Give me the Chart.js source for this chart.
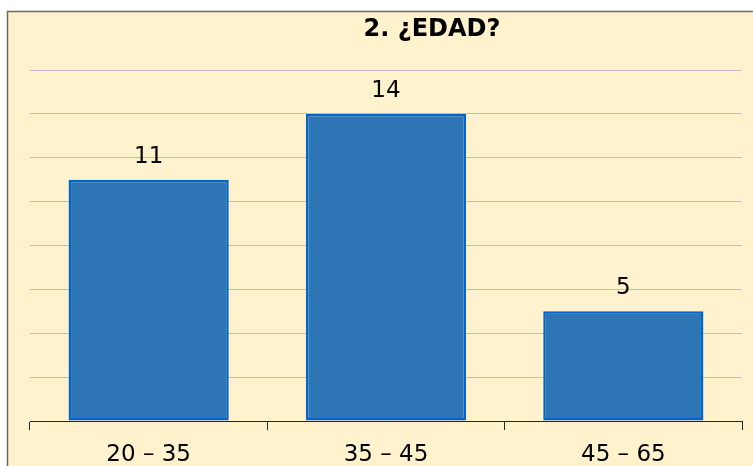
<!DOCTYPE html>
<html>
<head>
<meta charset="utf-8">
<script src="https://cdn.jsdelivr.net/npm/chart.js@4.4.1/dist/chart.umd.min.js"></script>
<style>
  html, body { margin: 0; padding: 0; background: #fff; }
  canvas { display: block; }
</style>
</head>
<body>
<canvas id="chart" width="753" height="466"></canvas>
<script>
// data
const categories = ['20 – 35', '35 – 45', '45 – 65'];
const values = [11, 14, 5];
const yMax = 16;
const yStep = 2;
const titleText = '2. ¿EDAD?';

const FONT = '"DejaVu Sans", sans-serif';

// panel background + border like the spreadsheet chart box
const panelBg = {
  id: 'panelBg',
  beforeDraw(chart) {
    const ctx = chart.ctx;
    ctx.save();
    ctx.fillStyle = '#ffffff';
    ctx.fillRect(0, 0, chart.width, chart.height);
    ctx.fillStyle = '#FFF2CC';
    ctx.fillRect(7.5, 11.5, chart.width, chart.height);
    ctx.strokeStyle = '#6E6A6A';
    ctx.lineWidth = 1.5;
    ctx.beginPath();
    ctx.moveTo(7.5, chart.height + 2);
    ctx.lineTo(7.5, 11.5);
    ctx.lineTo(chart.width + 2, 11.5);
    ctx.stroke();
    ctx.restore();
  }
};

// title (sits right of centre in the original)
const titlePlugin = {
  id: 'titlePlugin',
  afterDraw(chart) {
    const ctx = chart.ctx;
    ctx.save();
    ctx.font = 'bold 24px ' + FONT;
    ctx.fillStyle = '#000';
    ctx.textAlign = 'center';
    ctx.textBaseline = 'alphabetic';
    ctx.fillText(titleText, 432, 36);
    ctx.restore();
  }
};

// value labels above the bars
const valueLabels = {
  id: 'valueLabels',
  afterDatasetsDraw(chart) {
    const ctx = chart.ctx;
    const meta = chart.getDatasetMeta(0);
    ctx.save();
    ctx.font = '23px ' + FONT;
    ctx.fillStyle = '#000';
    ctx.textAlign = 'center';
    ctx.textBaseline = 'alphabetic';
    meta.data.forEach((bar, i) => {
      ctx.fillText(String(values[i]), bar.x, bar.y - 17);
    });
    ctx.restore();
  }
};

new Chart(document.getElementById('chart'), {
  type: 'bar',
  data: {
    labels: categories,
    datasets: [{
      data: values,
      backgroundColor: '#2E75B6',
      borderColor: '#0066CC',
      borderWidth: 2.5,
      borderSkipped: false,
      categoryPercentage: 1,
      barPercentage: 0.675
    }]
  },
  options: {
    responsive: false,
    devicePixelRatio: 1,
    animation: false,
    layout: { padding: { left: 30, right: 11, top: 70, bottom: 0 } },
    plugins: {
      legend: { display: false },
      title: { display: false },
      tooltip: { enabled: false }
    },
    scales: {
      x: {
        grid: {
          offset: true,
          drawOnChartArea: false,
          drawTicks: true,
          tickLength: 9,
          color: '#262626'
        },
        border: { color: '#262626', width: 1 },
        ticks: {
          color: '#000',
          font: { family: FONT, size: 23 },
          padding: 11
        },
        afterFit(scale) { scale.height = 45; }
      },
      y: {
        min: 0,
        max: yMax,
        ticks: { display: false, stepSize: yStep },
        grid: { color: '#BDBDC4', drawTicks: false, lineWidth: 1 },
        border: { display: false },
        afterFit(scale) { scale.width = 0; }
      }
    }
  },
  plugins: [panelBg, titlePlugin, valueLabels]
});
</script>
</body>
</html>
